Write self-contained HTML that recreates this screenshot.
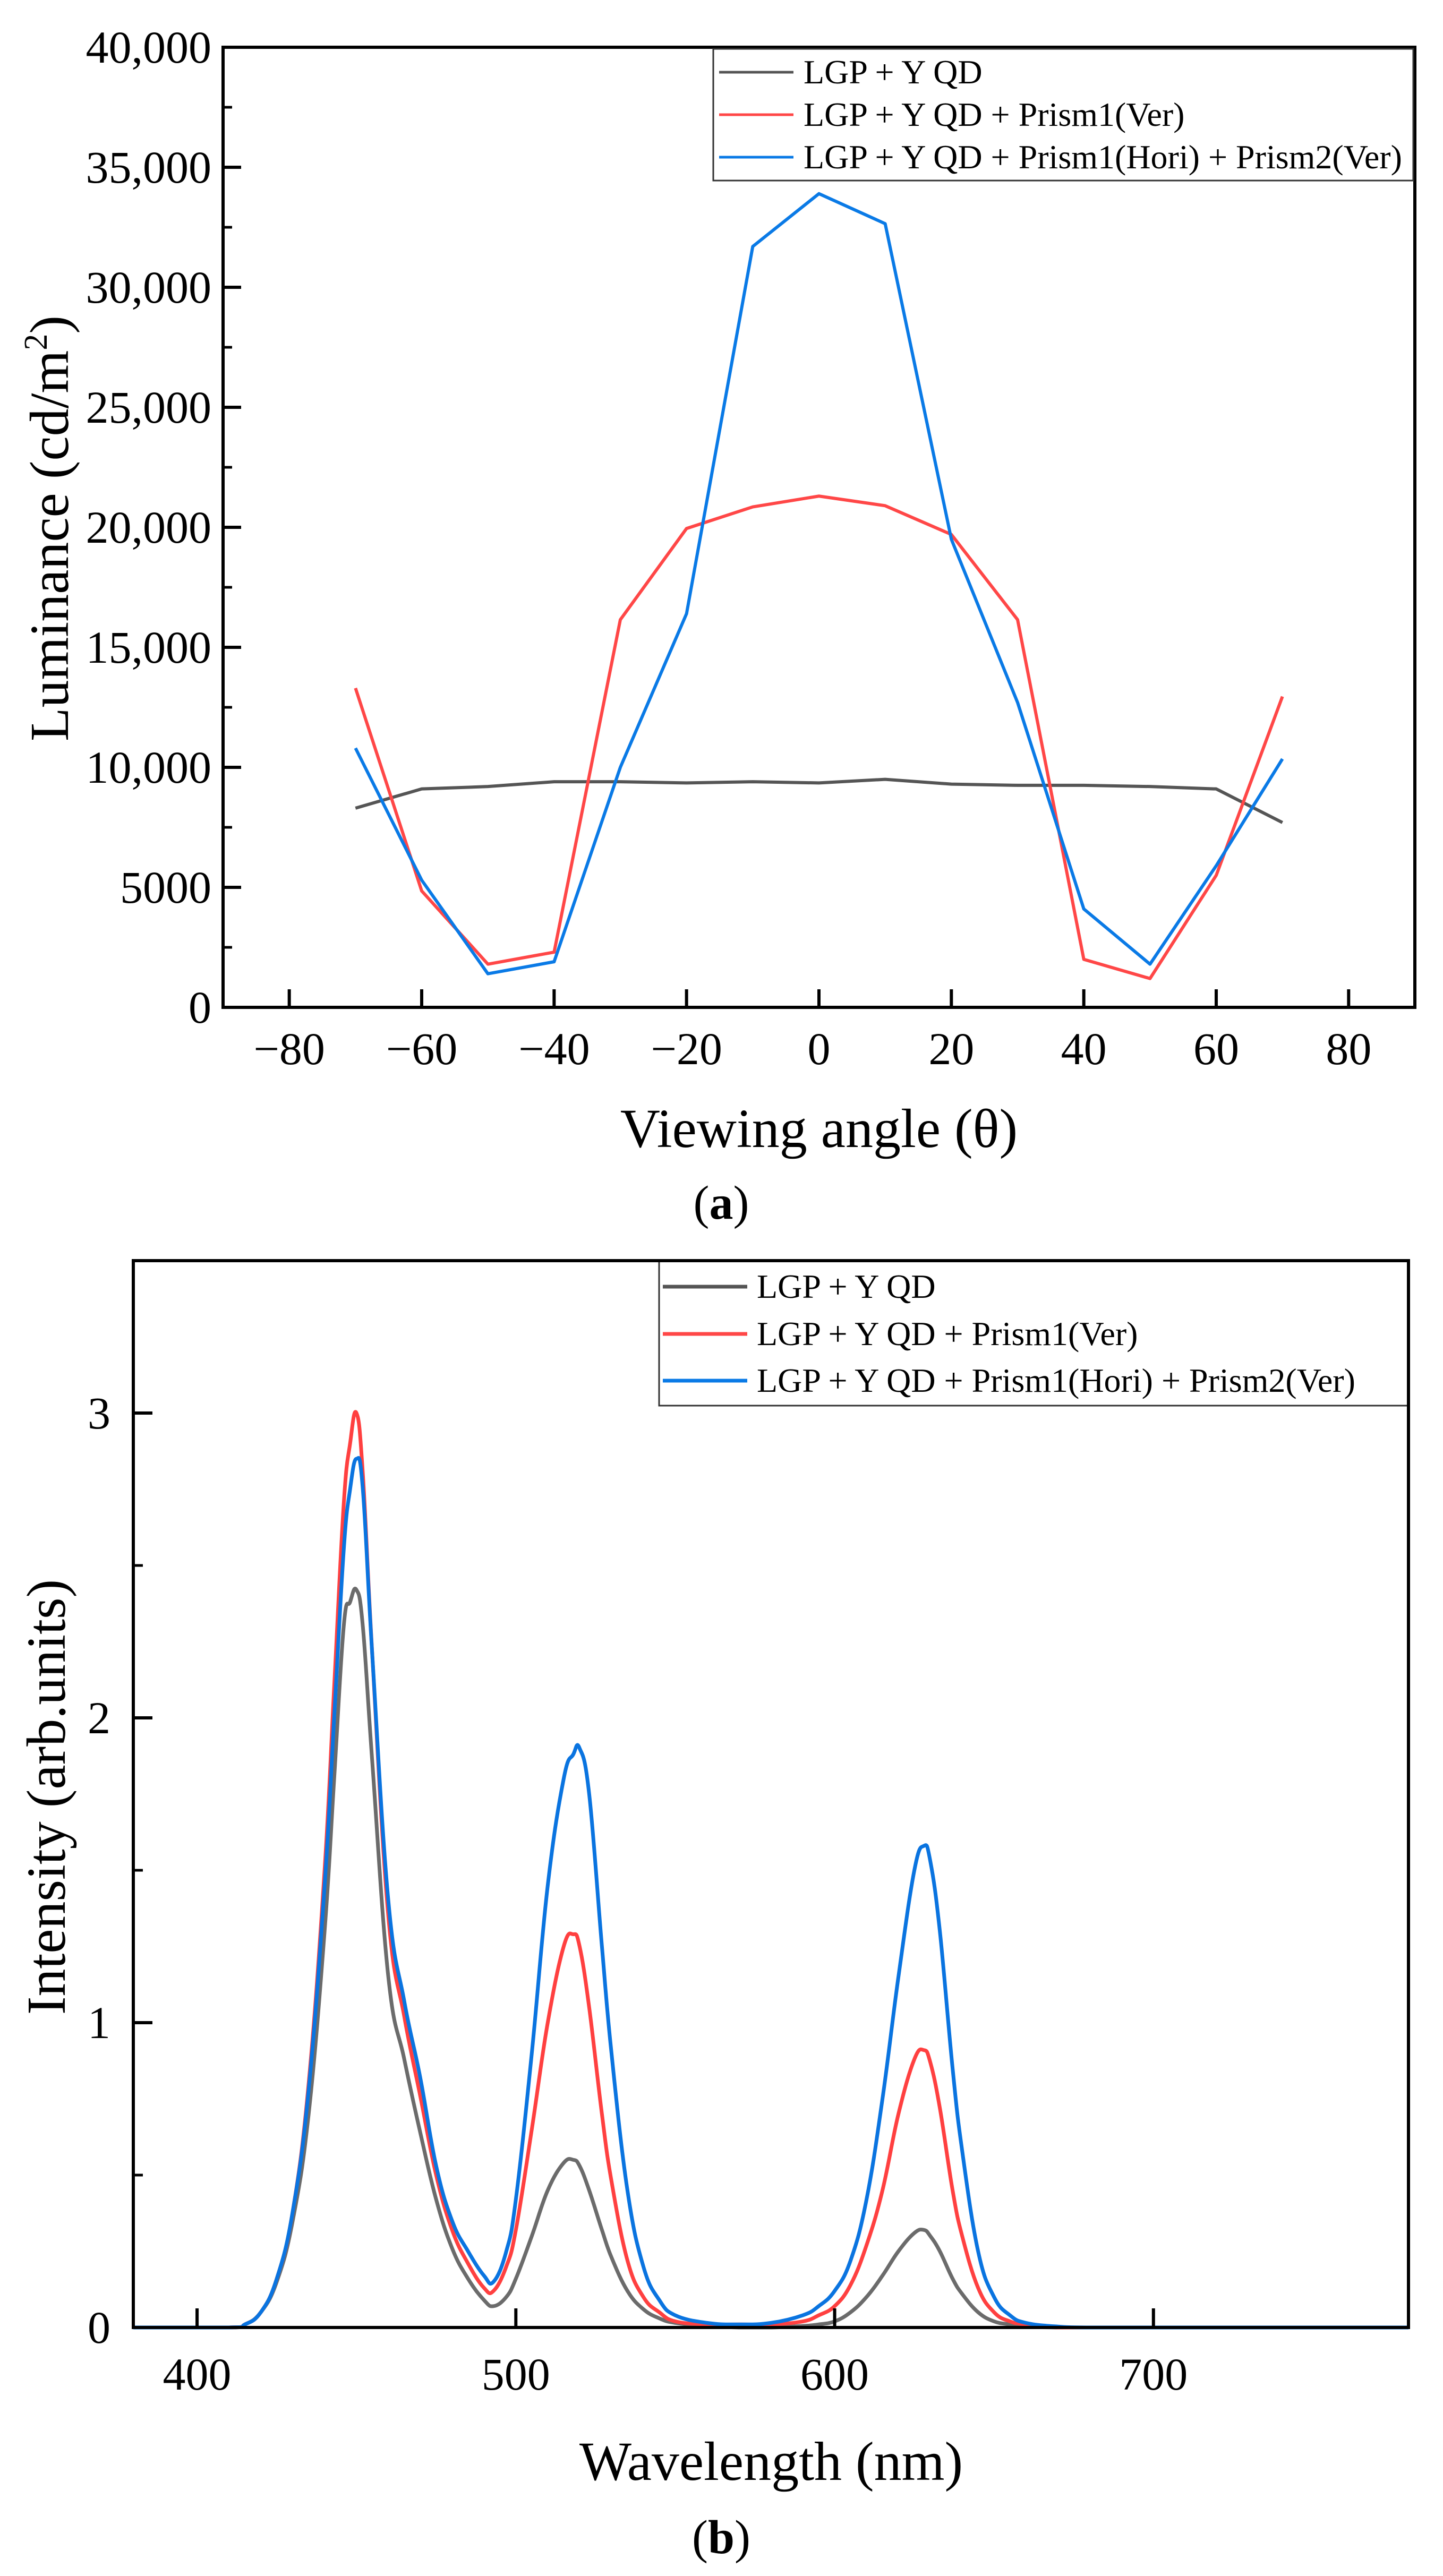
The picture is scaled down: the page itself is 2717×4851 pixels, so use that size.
<!DOCTYPE html>
<html><head><meta charset="utf-8"><style>
html,body{margin:0;padding:0;background:#fff}
svg{display:block;font-family:"Liberation Serif",serif}
</style></head><body>
<svg id="svg" xmlns="http://www.w3.org/2000/svg" width="2717" height="4851" viewBox="0 0 2717 4851">
<g id="ga"></g>
<g id="gb"></g>
</svg>
<script>
const anglesA = [-70,-60,-50,-40,-30,-20,-10,0,10,20,30,40,50,60,70];
const grayA = [8300,9100,9200,9400,9400,9350,9400,9350,9500,9300,9250,9250,9200,9100,7700];
const redA = [13300,4850,1800,2300,16150,19950,20850,21300,20900,19700,16150,2000,1200,5500,12950];
const blueA = [10800,5300,1400,1900,10000,16400,31700,33900,32650,19500,12700,4100,1800,5900,10350];
const yTicksA = [0,5000,10000,15000,20000,25000,30000,35000,40000];
const yTickLabelsA = ["0","5000","10,000","15,000","20,000","25,000","30,000","35,000","40,000"];
const xTicksA = [-80,-60,-40,-20,0,20,40,60,80];
const xTickLabelsA = ["\u221280","\u221260","\u221240","\u221220","0","20","40","60","80"];

const wlB = [380,410,415,420,425,430,435,440,443,446,448,450,452,455,460,465,470,475,480,485,490,493,497,500,505,510,515,518,520,523,527,530,535,540,545,550,560,570,580,590,595,600,605,610,615,620,625,628,630,633,637,640,645,650,655,660,670,680,700,780];
const grayB = [0,0,0.01,0.05,0.15,0.35,0.7,1.3,1.8,2.3,2.38,2.42,2.3,1.85,1.15,0.88,0.64,0.42,0.26,0.16,0.09,0.07,0.1,0.16,0.3,0.45,0.54,0.55,0.53,0.45,0.32,0.23,0.12,0.06,0.03,0.015,0.005,0,0,0.005,0.01,0.02,0.05,0.1,0.17,0.25,0.31,0.32,0.3,0.25,0.16,0.11,0.05,0.02,0.01,0.003,0,0,0,0];
const redB = [0,0,0.01,0.05,0.16,0.38,0.8,1.5,2.1,2.7,2.9,3.0,2.8,2.2,1.35,1.02,0.76,0.5,0.32,0.21,0.13,0.12,0.2,0.32,0.65,1.0,1.25,1.29,1.25,1.05,0.7,0.48,0.22,0.1,0.05,0.02,0.01,0.01,0.01,0.02,0.04,0.07,0.14,0.27,0.45,0.7,0.88,0.91,0.87,0.72,0.45,0.3,0.13,0.05,0.02,0.01,0,0,0,0];
const blueB = [0,0,0.01,0.05,0.16,0.38,0.78,1.45,2.0,2.55,2.75,2.85,2.75,2.2,1.4,1.07,0.82,0.53,0.35,0.25,0.17,0.15,0.25,0.42,0.9,1.45,1.8,1.88,1.9,1.75,1.25,0.9,0.45,0.2,0.09,0.04,0.015,0.01,0.015,0.04,0.07,0.12,0.22,0.42,0.75,1.15,1.5,1.58,1.53,1.3,0.85,0.58,0.25,0.1,0.04,0.015,0.003,0,0,0];
const yTicksB = [0,1,2,3];
const yTickLabelsB = ["0","1","2","3"];
const xTicksB = [400,500,600,700];
const xTickLabelsB = ["400","500","600","700"];
const legendLabels = ["LGP + Y QD","LGP + Y QD + Prism1(Ver)","LGP + Y QD + Prism1(Hori) + Prism2(Ver)"];

const NS="http://www.w3.org/2000/svg";
function mk(parent,tag,attrs,text){const e=document.createElementNS(NS,tag);for(const k in attrs)e.setAttribute(k,attrs[k]);if(text!==undefined)e.textContent=text;parent.appendChild(e);return e;}

// ---------- Chart A ----------
const ga=document.getElementById('ga');
const A={l:420,r:2664,t:89,b:1897,x0:-90,x1:90,y0:0,y1:40000};
const xa=v=>A.l+(v-A.x0)/(A.x1-A.x0)*(A.r-A.l);
const ya=v=>A.b-(v-A.y0)/(A.y1-A.y0)*(A.b-A.t);
function seriesA(vals,color,name){
  const p=mk(ga,'polyline',{points:anglesA.map((a,i)=>xa(a)+','+ya(vals[i])).join(' '),fill:'none',stroke:color,'stroke-width':6,'stroke-linejoin':'round'});
  
  
}
seriesA(grayA,'#555555','series-lgp-yqd');
seriesA(redA,'#ff4747','series-prism1-ver');
seriesA(blueA,'#0a7ae6','series-prism1-hori-prism2-ver');
for(let v=2500;v<40000;v+=5000){const t=mk(ga,'line',{x1:A.l,x2:A.l+17,y1:ya(v),y2:ya(v),stroke:'#000','stroke-width':5});}
yTicksA.forEach((v,i)=>{
  const t=mk(ga,'line',{x1:A.l,x2:A.l+34,y1:ya(v),y2:ya(v),stroke:'#000','stroke-width':6});
  
  
  const l=mk(ga,'text',{x:398,y:ya(v)+29,'text-anchor':'end','font-size':86},yTickLabelsA[i]);
  
  
});
xTicksA.forEach((v,i)=>{
  const t=mk(ga,'line',{x1:xa(v),x2:xa(v),y1:A.b,y2:A.b-34,stroke:'#000','stroke-width':6});
  
  
  const l=mk(ga,'text',{x:xa(v),y:2004,'text-anchor':'middle','font-size':86},xTickLabelsA[i]);
  
  
});
{const f=mk(ga,'rect',{x:A.l,y:A.t,width:A.r-A.l,height:A.b-A.t,fill:'none',stroke:'#000','stroke-width':6});}
{const t=mk(ga,'text',{x:1542,y:2160,'text-anchor':'middle','font-size':104},'Viewing angle (\u03b8)');}
{const t=mk(ga,'text',{x:0,y:0,'text-anchor':'middle','font-size':104,transform:'translate(128,995) rotate(-90)'});
 mk(t,'tspan',{},'Luminance (cd/m');mk(t,'tspan',{'font-size':62,dy:-40},'2');mk(t,'tspan',{dy:40},')');}
{const t=mk(ga,'text',{x:1358,y:2295,'text-anchor':'middle','font-size':90});
 mk(t,'tspan',{},'(');mk(t,'tspan',{'font-weight':'bold'},'a');mk(t,'tspan',{},')');}
function legend(g,x0,y0,x1,y1,rows,lx0,lx1,tx,fs,sw,prefix){
  const b=mk(g,'rect',{x:x0,y:y0,width:x1-x0,height:y1-y0,fill:'#fff',stroke:'#333','stroke-width':3});
  
  
  const cols=['#555555','#ff4747','#0a7ae6'];
  rows.forEach((ry,i)=>{
    const ln=mk(g,'line',{x1:lx0,x2:lx1,y1:ry,y2:ry,stroke:cols[i],'stroke-width':sw});
    
    
    const t=mk(g,'text',{x:tx,y:ry+fs*0.33,'font-size':fs},legendLabels[i]);
    
    
  });
}
legend(ga,1343,92,2661,340,[136,216,296],1354,1494,1513,64,5,'a');

// ---------- Chart B ----------
const gb=document.getElementById('gb');
const B={l:251,r:2652,t:2374,b:4383,x0:380,x1:780,y0:0,y1:3.5};
const xb=v=>B.l+(v-B.x0)/(B.x1-B.x0)*(B.r-B.l);
const yb=v=>B.b-(v-B.y0)/(B.y1-B.y0)*(B.b-B.t);
function smoothPath(pts){
  let d='M'+pts[0][0]+','+pts[0][1];
  for(let i=0;i<pts.length-1;i++){
    const p0=pts[Math.max(0,i-1)],p1=pts[i],p2=pts[i+1],p3=pts[Math.min(pts.length-1,i+2)];
    const t=0.2;
    const c1x=p1[0]+(p2[0]-p0[0])*t,c1y=p1[1]+(p2[1]-p0[1])*t;
    const c2x=p2[0]-(p3[0]-p1[0])*t,c2y=p2[1]-(p3[1]-p1[1])*t;
    d+=' C'+c1x+','+Math.min(c1y,B.b)+' '+c2x+','+Math.min(c2y,B.b)+' '+p2[0]+','+p2[1];
  }
  return d;
}
function seriesB(vals,color,name){
  const p=mk(gb,'path',{d:smoothPath(wlB.map((w,i)=>[xb(w),yb(vals[i])])),fill:'none',stroke:color,'stroke-width':7,'stroke-linejoin':'round'});
  
  
}
seriesB(grayB,'#6b6b6b','spectrum-lgp-yqd');
seriesB(redB,'#ff4040','spectrum-prism1-ver');
seriesB(blueB,'#0a74e0','spectrum-prism1-hori-prism2-ver');
for(let v=0.5;v<3.5;v+=1){const t=mk(gb,'line',{x1:B.l,x2:B.l+18,y1:yb(v),y2:yb(v),stroke:'#000','stroke-width':5});}
yTicksB.forEach((v,i)=>{
  const t=mk(gb,'line',{x1:B.l,x2:B.l+36,y1:yb(v),y2:yb(v),stroke:'#000','stroke-width':6});
  
  
  const l=mk(gb,'text',{x:208,y:yb(v)+29,'text-anchor':'end','font-size':86},yTickLabelsB[i]);
  
  
});
xTicksB.forEach((v,i)=>{
  const t=mk(gb,'line',{x1:xb(v),x2:xb(v),y1:B.b,y2:B.b-36,stroke:'#000','stroke-width':6});
  
  
  const l=mk(gb,'text',{x:xb(v),y:4500,'text-anchor':'middle','font-size':86},xTickLabelsB[i]);
  
  
});
legend(gb,1241,2374,2652,2647,[2423,2512,2600],1248,1407,1425,64,7,'b');
{const f=mk(gb,'rect',{x:B.l,y:B.t,width:B.r-B.l,height:B.b-B.t,fill:'none',stroke:'#000','stroke-width':6});}
{const t=mk(gb,'text',{x:1452,y:4670,'text-anchor':'middle','font-size':104},'Wavelength (nm)');}
{const t=mk(gb,'text',{x:0,y:0,'text-anchor':'middle','font-size':104,transform:'translate(122,3384) rotate(-90)'},'Intensity (arb.units)');}
{const t=mk(gb,'text',{x:1358,y:4808,'text-anchor':'middle','font-size':90});
 mk(t,'tspan',{},'(');mk(t,'tspan',{'font-weight':'bold'},'b');mk(t,'tspan',{},')');}
</script>
</body></html>
